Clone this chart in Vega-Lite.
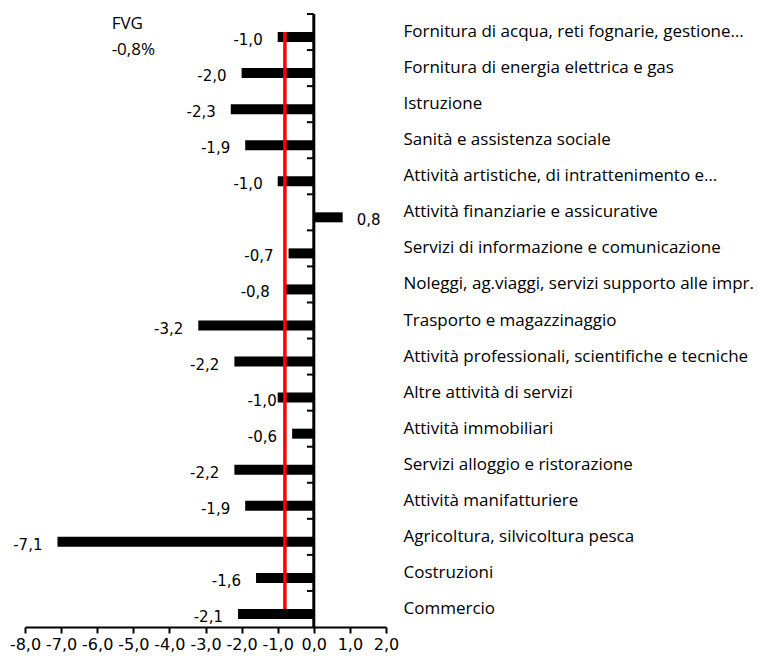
{
  "$schema": "https://vega.github.io/schema/vega-lite/v6.json",
  "width": 361,
  "height": 613,
  "autosize": {"type": "none"},
  "padding": {"left": 25, "top": 14, "right": 373, "bottom": 34},
  "config": {
    "locale": {"number": {"decimal": ",", "thousands": ".", "grouping": [3], "currency": ["", " €"], "minus": "-"}},
    "view": {"stroke": null},
    "font": "Open Sans",
    "axisX": {"title": null, "grid": false, "domainColor": "black", "domainWidth": 2, "tickColor": "black", "tickWidth": 2, "tickSize": 6, "labelFont": "DejaVu Sans", "labelFontSize": 16, "labelColor": "black", "labelPadding": 3, "labelFlush": false, "labelOverlap": false},
    "axisY": {"title": null, "domain": false, "ticks": false, "labelPadding": 17, "labelFont": "Open Sans", "labelFontSize": 17, "labelColor": "black", "labelLimit": 500}
  },
  "datasets": {
    "settori": [
      {"settore": "Fornitura di acqua, reti fognarie, gestione…", "v": -1.0},
      {"settore": "Fornitura di energia elettrica e gas", "v": -2.0},
      {"settore": "Istruzione", "v": -2.3},
      {"settore": "Sanità e assistenza sociale", "v": -1.9},
      {"settore": "Attività artistiche, di intrattenimento e…", "v": -1.0},
      {"settore": "Attività finanziarie e assicurative", "v": 0.8},
      {"settore": "Servizi di informazione e comunicazione", "v": -0.7},
      {"settore": "Noleggi, ag.viaggi, servizi supporto alle impr.", "v": -0.8},
      {"settore": "Trasporto e magazzinaggio", "v": -3.2},
      {"settore": "Attività professionali, scientifiche e tecniche", "v": -2.2},
      {"settore": "Altre attività di servizi", "v": -1.0},
      {"settore": "Attività immobiliari", "v": -0.6},
      {"settore": "Servizi alloggio e ristorazione", "v": -2.2},
      {"settore": "Attività manifatturiere", "v": -1.9},
      {"settore": "Agricoltura, silvicoltura pesca", "v": -7.1},
      {"settore": "Costruzioni", "v": -1.6},
      {"settore": "Commercio", "v": -2.1}
    ],
    "fvg": [
      {"settore": "Fornitura di acqua, reti fognarie, gestione…", "v": -0.8},
      {"settore": "Commercio", "v": -0.8}
    ],
    "nota": [
      {"regione": "FVG", "media": -0.8}
    ]
  },
  "layer": [
    {
      "data": {"name": "settori"},
      "mark": {"type": "bar", "color": "black", "height": 10, "yOffset": 5},
      "encoding": {
        "y": {"field": "settore", "type": "nominal", "sort": null,
          "scale": {"paddingInner": 0, "paddingOuter": 0},
          "axis": {"orient": "right"}},
        "x": {"field": "v", "type": "quantitative",
          "scale": {"domain": [-8, 2], "nice": false, "zero": false},
          "axis": {"orient": "bottom", "values": [-8, -7, -6, -5, -4, -3, -2, -1, 0, 1, 2], "format": ".1f"}}
      }
    },
    {
      "data": {"name": "fvg"},
      "mark": {"type": "line", "color": "#ff0000", "strokeWidth": 3.5},
      "encoding": {
        "y": {"field": "settore", "type": "nominal", "sort": null, "axis": {"orient": "right"}},
        "x": {"field": "v", "type": "quantitative", "axis": {"orient": "bottom", "values": [-8, -7, -6, -5, -4, -3, -2, -1, 0, 1, 2], "format": ".1f"}}
      }
    },
    {
      "data": {"name": "nota"},
      "mark": {"type": "rule", "color": "black", "strokeWidth": 3},
      "encoding": {"x": {"datum": 0, "type": "quantitative", "axis": {"orient": "bottom", "values": [-8, -7, -6, -5, -4, -3, -2, -1, 0, 1, 2], "format": ".1f"}}}
    },
    {
      "data": {"name": "settori"},
      "mark": {"type": "rule", "color": "black", "strokeWidth": 2},
      "encoding": {
        "y": {"field": "settore", "type": "nominal", "sort": null, "bandPosition": 0, "axis": {"orient": "right"}},
        "x": {"datum": -0.19, "type": "quantitative", "axis": {"orient": "bottom", "values": [-8, -7, -6, -5, -4, -3, -2, -1, 0, 1, 2], "format": ".1f"}},
        "x2": {"datum": 0}
      }
    },
    {
      "data": {"name": "settori"},
      "transform": [{"filter": "datum.v < 0 && datum.settore != 'Altre attività di servizi'"}],
      "mark": {"type": "text", "align": "right", "baseline": "middle", "dx": -15, "dy": 8, "font": "DejaVu Sans", "fontSize": 15, "color": "black"},
      "encoding": {
        "y": {"field": "settore", "type": "nominal", "sort": null, "axis": {"orient": "right"}},
        "x": {"field": "v", "type": "quantitative", "axis": {"orient": "bottom", "values": [-8, -7, -6, -5, -4, -3, -2, -1, 0, 1, 2], "format": ".1f"}},
        "text": {"field": "v", "type": "quantitative", "format": ".1f"}
      }
    },
    {
      "data": {"name": "settori"},
      "transform": [{"filter": "datum.settore == 'Altre attività di servizi'"}],
      "mark": {"type": "text", "align": "right", "baseline": "middle", "dx": -1, "dy": 8, "font": "DejaVu Sans", "fontSize": 15, "color": "black"},
      "encoding": {
        "y": {"field": "settore", "type": "nominal", "sort": null, "axis": {"orient": "right"}},
        "x": {"field": "v", "type": "quantitative", "axis": {"orient": "bottom", "values": [-8, -7, -6, -5, -4, -3, -2, -1, 0, 1, 2], "format": ".1f"}},
        "text": {"field": "v", "type": "quantitative", "format": ".1f"}
      }
    },
    {
      "data": {"name": "settori"},
      "transform": [{"filter": "datum.v >= 0"}],
      "mark": {"type": "text", "align": "left", "baseline": "middle", "dx": 14, "dy": 8, "font": "DejaVu Sans", "fontSize": 15, "color": "black"},
      "encoding": {
        "y": {"field": "settore", "type": "nominal", "sort": null, "axis": {"orient": "right"}},
        "x": {"field": "v", "type": "quantitative", "axis": {"orient": "bottom", "values": [-8, -7, -6, -5, -4, -3, -2, -1, 0, 1, 2], "format": ".1f"}},
        "text": {"field": "v", "type": "quantitative", "format": ".1f"}
      }
    },
    {
      "data": {"name": "nota"},
      "mark": {"type": "text", "align": "left", "baseline": "middle", "lineHeight": 26, "dy": -8, "font": "Open Sans", "fontSize": 17, "color": "black"},
      "encoding": {
        "x": {"datum": -5.6, "type": "quantitative", "axis": {"orient": "bottom", "values": [-8, -7, -6, -5, -4, -3, -2, -1, 0, 1, 2], "format": ".1f"}},
        "y": {"datum": "Fornitura di acqua, reti fognarie, gestione…", "type": "nominal", "axis": {"orient": "right"}},
        "text": {"value": ["FVG", "-0,8%"]}
      }
    }
  ]
}
